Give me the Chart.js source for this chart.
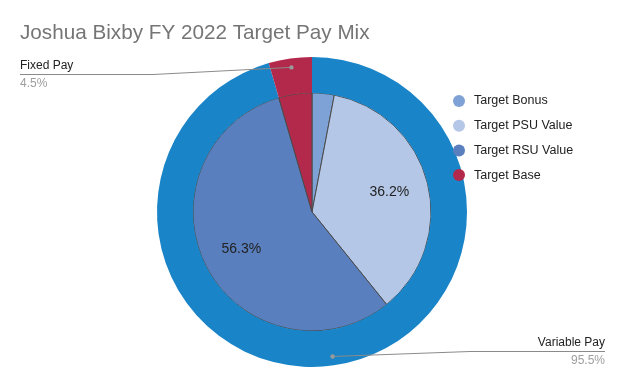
<!DOCTYPE html>
<html>
<head>
<meta charset="utf-8">
<script src="https://cdn.jsdelivr.net/npm/chart.js@4.4.0/dist/chart.umd.min.js"></script>
<style>
  html, body { margin: 0; padding: 0; background: #fff; }
  #wrap { width: 624px; height: 388px; }
</style>
</head>
<body>
<div id="wrap"><canvas id="payMix" width="624" height="388"></canvas></div>
<script>
// --- data ---
const outerLabels = ['Variable Pay', 'Fixed Pay'];
const outerValues = [95.5, 4.5];
const outerColors = ['#1984c7', '#b3294b'];

const innerLabels = ['Target Bonus', 'Target PSU Value', 'Target RSU Value', 'Target Base'];
const innerValues = [3.0, 36.2, 56.3, 4.5];
const innerColors = ['#7ea2d6', '#b4c7e7', '#5a7fbf', '#b3294b'];

const FONT = '"Liberation Sans", Arial, sans-serif';

// percent labels inside the pie + callout labels for the outer ring + legend
const pieLabels = {
    id: 'pieLabels',
    afterDatasetsDraw(chart) {
        const ctx = chart.ctx;
        ctx.save();

        // inner pie values (only the big slices)
        const inner = chart.getDatasetMeta(1);
        ctx.font = '14px ' + FONT;
        ctx.fillStyle = '#222';
        ctx.textAlign = 'center';
        ctx.textBaseline = 'middle';
        inner.data.forEach((arc, i) => {
            if (innerValues[i] < 10) return;
            const p = arc.getProps(['x', 'y', 'startAngle', 'endAngle', 'outerRadius'], true);
            const mid = (p.startAngle + p.endAngle) / 2;
            const r = p.outerRadius * 0.67;
            ctx.fillText(innerValues[i].toFixed(1) + '%', p.x + Math.cos(mid) * r, p.y + Math.sin(mid) * r);
        });

        // outer ring callouts
        const outer = chart.getDatasetMeta(0);
        const callouts = [
            { idx: 1, textX: 20, lineY: 74, elbowX: 153, align: 'left' },
            { idx: 0, textX: 605, lineY: 351, elbowX: 470, align: 'right' }
        ];
        callouts.forEach(c => {
            const arc = outer.data[c.idx];
            const p = arc.getProps(['x', 'y', 'startAngle', 'endAngle', 'outerRadius'], true);
            const mid = (p.startAngle + p.endAngle) / 2;
            const r = p.outerRadius - 9;
            const dx = p.x + Math.cos(mid) * r;
            const dy = p.y + Math.sin(mid) * r;

            ctx.strokeStyle = '#8a8a8a';
            ctx.lineWidth = 1;
            ctx.beginPath();
            ctx.moveTo(c.textX, c.lineY + 0.5);
            ctx.lineTo(c.elbowX, c.lineY + 0.5);
            ctx.lineTo(dx, dy);
            ctx.stroke();

            ctx.fillStyle = '#9a9a9a';
            ctx.beginPath();
            ctx.arc(dx, dy, 2.2, 0, Math.PI * 2);
            ctx.fill();

            ctx.textAlign = c.align;
            ctx.textBaseline = 'alphabetic';
            ctx.font = '12px ' + FONT;
            ctx.fillStyle = '#222';
            ctx.fillText(outerLabels[c.idx], c.textX, c.lineY - 5);
            ctx.fillStyle = '#9e9e9e';
            ctx.fillText(outerValues[c.idx].toFixed(1) + '%', c.textX, c.lineY + 13);
        });

        // legend (inner series)
        ctx.textAlign = 'left';
        ctx.textBaseline = 'middle';
        ctx.font = '12.5px ' + FONT;
        innerLabels.forEach((lbl, i) => {
            const y = 101 + i * 24.7;
            ctx.fillStyle = innerColors[i];
            ctx.beginPath();
            ctx.arc(459, y, 6, 0, Math.PI * 2);
            ctx.fill();
            ctx.fillStyle = '#222';
            ctx.fillText(lbl, 474, y);
        });

        ctx.restore();
    }
};

new Chart(document.getElementById('payMix').getContext('2d'), {
    type: 'doughnut',
    data: {
        labels: innerLabels,
        datasets: [
            {
                label: 'Pay Type',
                data: outerValues,
                backgroundColor: outerColors,
                borderWidth: 0,
                weight: 36
            },
            {
                label: 'Pay Component',
                data: innerValues,
                backgroundColor: innerColors,
                borderColor: '#4a4a4a',
                borderWidth: 1,
                weight: 119
            }
        ]
    },
    options: {
        responsive: false,
        animation: false,
        cutout: 0,
        radius: 155,
        events: [],
        layout: { padding: { left: 20, right: 20, top: 0, bottom: 21 } },
        plugins: {
            legend: { display: false },
            tooltip: { enabled: false },
            title: {
                display: true,
                text: 'Joshua Bixby FY 2022 Target Pay Mix',
                align: 'start',
                color: '#757575',
                font: { family: FONT, size: 20.7, weight: 'normal', lineHeight: 1.2 },
                padding: { top: 21, bottom: 11 }
            }
        }
    },
    plugins: [pieLabels]
});
</script>
</body>
</html>
